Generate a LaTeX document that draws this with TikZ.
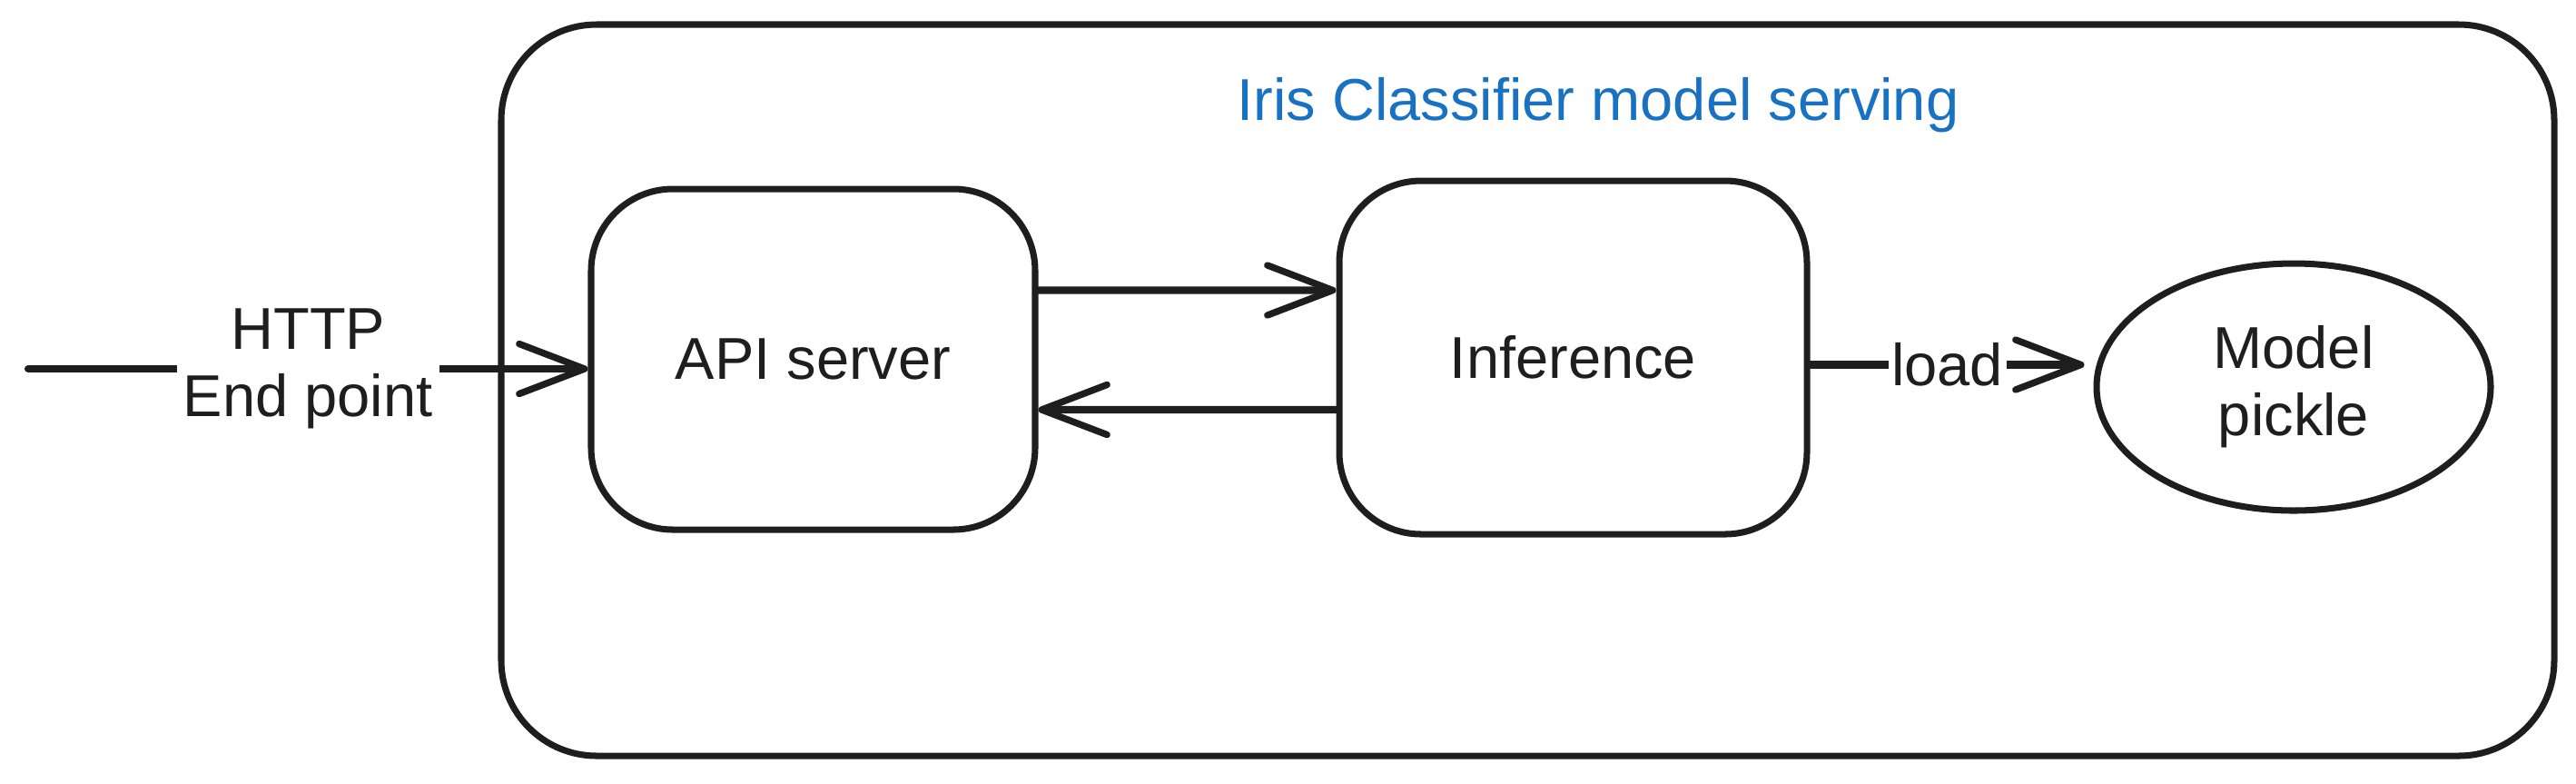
\documentclass[tikz,border=0pt]{standalone}
\usepackage{fontspec}
\setmainfont{Liberation Sans}
\usetikzlibrary{arrows.meta,shapes.geometric}
\definecolor{ink}{HTML}{1E1E1E}
\definecolor{titleblue}{HTML}{1971C2}
\tikzset{
  boxstyle/.style={draw=ink, line width=2pt, rounded corners=0.9cm, inner sep=0pt},
  lbl/.style={font=\fontsize{18.5}{21}\selectfont, text=ink, align=center},
  arr/.style={draw=ink, line width=2.3pt, line cap=round, -{Straight Barb[length=0.72cm, width=0.55cm, line width=2.1pt, round]}},
}
\begin{document}
\begin{tikzpicture}
\useasboundingbox (0,0) rectangle (28.37,-8.62);
% outer frame
\node[boxstyle, rounded corners=1.05cm, minimum width=22.61cm, minimum height=8.05cm] (frame) at (16.825,-4.295) {};
\node[lbl, text=titleblue] (title) at (17.6,-1.16) {Iris Classifier model serving};
% nodes
\node[boxstyle, lbl, minimum width=4.89cm, minimum height=3.75cm] (api) at (8.955,-3.955) {API server};
\node[boxstyle, lbl, minimum width=5.15cm, minimum height=3.89cm] (inf) at (17.325,-3.935) {Inference};
\node[draw=ink, line width=2pt, ellipse, lbl, minimum width=4.34cm, minimum height=2.72cm, inner sep=0pt] (model) at (25.26,-4.26) {Model\\pickle};
% connectors
\coordinate (src) at (0.31,-4.06);
\draw[arr] (src) -- node[lbl, fill=white, inner xsep=2pt] (http) {HTTP\\End point} (api.west |- src);
\draw[arr] ([yshift=7.6mm]api.east) -- ([yshift=7.4mm]inf.west);
\draw[arr] ([yshift=-5.75mm]inf.west) -- ([yshift=-5.55mm]api.east);
\coordinate (lo) at ([yshift=-0.8mm]inf.east);
\draw[arr] (lo) -- node[lbl, fill=white, inner xsep=1pt, inner ysep=0pt] (loadlbl) {load} ([xshift=-1mm]model.west |- lo);
\end{tikzpicture}
\end{document}
